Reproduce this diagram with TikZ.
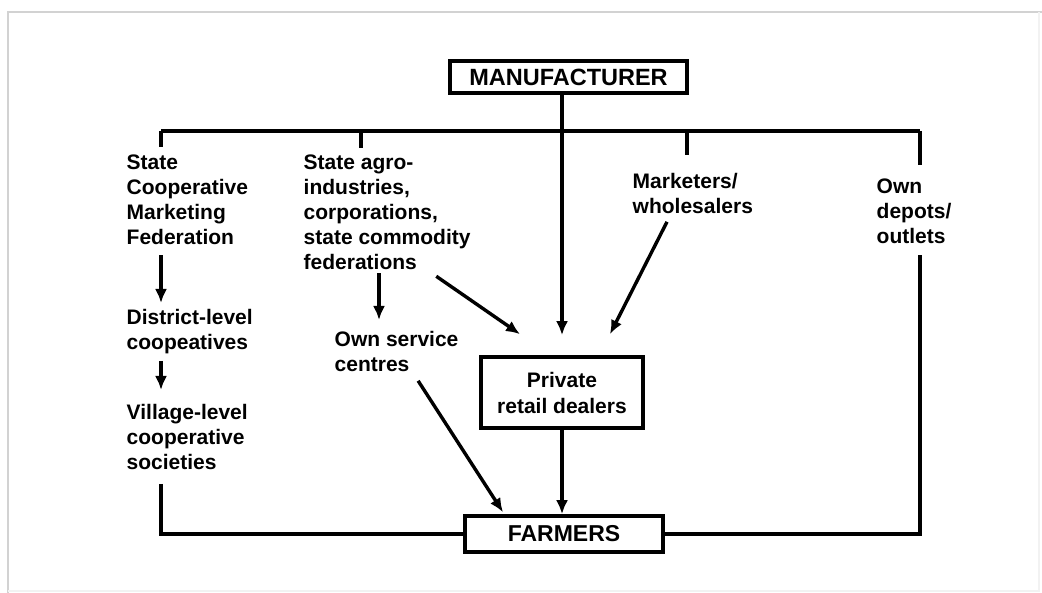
\documentclass[tikz,border=0pt]{standalone}
\usepackage{fontspec}
\setmainfont{Liberation Sans}
\usetikzlibrary{arrows.meta}

\begin{document}
\begin{tikzpicture}[x=1pt, y=-1pt, line width=3.4pt, line join=miter]
        \tikzset{
          lbl/.style={font=\fontsize{21}{25}\selectfont\bfseries, align=left,
                      inner sep=0pt, anchor=north west},
          box/.style={draw, line width=3.6pt, inner sep=0pt, align=center,
                      font=\fontsize{21}{26}\selectfont\bfseries},
          arr/.style={-{Latex[length=14pt,width=12pt]}},
          frame/.style={line width=2.5pt, draw=gray!35}
        }
        \useasboundingbox (0,0) rectangle (1042,593);
        % outer frame of the figure
        \draw[frame] (8,593) -- (8,12) -- (1042,12);
        \draw[frame, draw=gray!10] (1039,12) -- (1039,591) -- (8,591);

        % boxes
        \node[box, minimum width=237pt, minimum height=32pt,
              font=\fontsize{23.5}{26}\selectfont\bfseries] (mfr) at (568.5,77) {MANUFACTURER};
        \node[box, minimum width=162pt, minimum height=71pt] (prd) at (562,392.5) {Private\\retail dealers};
        \node[box, minimum width=198pt, minimum height=36pt,
              font=\fontsize{23}{26}\selectfont\bfseries] (frm) at (564,534) {FARMERS};

        % channel labels
        \node[lbl] (scmf) at (125,153) {State\\Cooperative\\Marketing\\Federation};
        \node[lbl] (dist) at (125,308) {District-level\\coopeatives};
        \node[lbl] (vill) at (125,403) {Village-level\\cooperative\\societies};
        \node[lbl] (agro) at (302,153) {State agro-\\industries,\\corporations,\\state commodity\\federations};
        \node[lbl] (osc) at (333,330) {Own service\\centres};
        \node[lbl] (mkt) at (631,172) {Marketers/\\wholesalers};
        \node[lbl] (dep) at (875,177) {Own\\depots/\\outlets};

        % distribution bus
        \coordinate (b1) at (161,131);
        \coordinate (b2) at (361,131);
        \coordinate (b3) at (687,131);
        \coordinate (b4) at (920,131);
        \draw (b1) -- (b4);
        \draw (b1) -- ([shift={(0,-6)}]b1 |- scmf.north);
        \draw (b2) -- ([shift={(0,-5)}]b2 |- agro.north);
        \draw (b3) -- ([shift={(0,-17)}]b3 |- mkt.north);
        \draw (b4) -- ([shift={(0,-12)}]b4 |- dep.north);
        \draw[arr] (prd.north |- mfr.south) -- ([shift={(0,-20)}]prd.north);

        % cooperative chain
        \draw[arr] ([shift={(0,9)}]scmf.south -| b1) -- ([shift={(0,-5)}]dist.north -| b1);
        \draw[arr] ([shift={(0,5)}]dist.south -| b1) -- ([shift={(0,-13)}]vill.north -| b1);
        \draw ([shift={(0,12)}]vill.south -| b1) |- (frm.west);

        % state agro-industries
        \draw[arr] ([shift={(0,2)}]agro.south -| 379,0) -- ([shift={(0,-10)}]osc.north -| 379,0);
        \draw[arr] ([shift={(-36,5)}]agro.south east) -- ([shift={(-42,-21)}]prd.north);
        \draw[arr] ([shift={(-42,7)}]osc.south east) -- ([shift={(-61,-2)}]frm.north);

        % marketers and own depots
        \draw[arr] ([shift={(36,6)}]mkt.south west) -- ([shift={(48,-21)}]prd.north);
        \draw ([shift={(0,10)}]dep.south -| b4) |- (frm.east);

        % retail dealers to farmers
        \draw[arr] (prd.south) -- (prd.south |- frm.north);
    \end{tikzpicture}
\end{document}
